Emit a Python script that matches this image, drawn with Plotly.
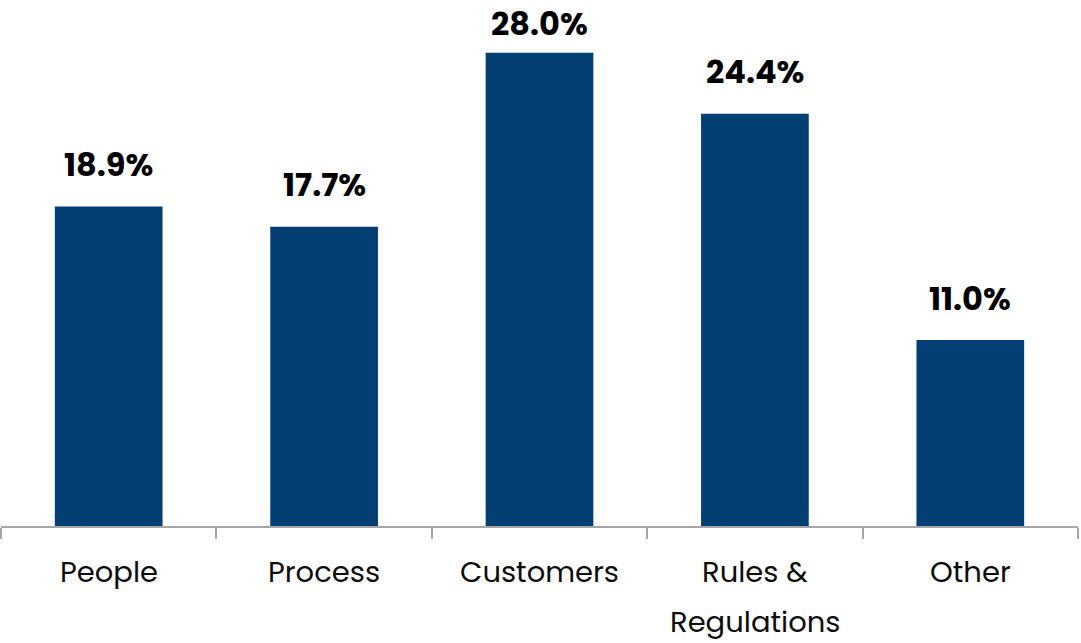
import plotly.graph_objects as go

categories = ["People", "Process", "Customers", "Rules & Regulations", "Other"]
label_lines = [["People"], ["Process"], ["Customers"], ["Rules &", "Regulations"], ["Other"]]
shares = [18.9, 17.7, 28.0, 24.4, 11.0]

BAR_COLOR = "#043F73"
AXIS_COLOR = "#A6A6A6"
FONT = "Poppins, Inter, sans-serif"

W, H = 1081, 643
M_T, M_B, M_L, M_R = 19, 117, 1, 3
Y_MAX = 30
plot_h = H - M_T - M_B
px_per_unit = plot_h / Y_MAX

fig = go.Figure(
    go.Bar(
        x=categories,
        y=shares,
        marker=dict(color=BAR_COLOR, line=dict(width=0)),
        hoverinfo="skip",
    )
)

annotations = []
# value labels above each bar, kept inside the canvas when the bar is tall
for cat, v in zip(categories, shares):
    bar_top_px = M_T + plot_h - v * px_per_unit
    shift = min(42, bar_top_px - 24)
    annotations.append(dict(
        x=cat, y=v, xref="x", yref="y", text=f"{v:.1f}%",
        showarrow=False, yanchor="middle", yshift=shift,
        font=dict(family=FONT, size=32, color="#000000", weight="bold"),
    ))

# category labels under the axis, one annotation per line
for cat, lines in zip(categories, label_lines):
    for i, line in enumerate(lines):
        annotations.append(dict(
            x=cat, y=0, xref="x", yref="paper", text=line,
            showarrow=False, yanchor="middle", yshift=-46 - 50 * i,
            font=dict(family=FONT, size=29, color="#0D0D0D"),
        ))

fig.update_layout(
    width=W, height=H,
    margin=dict(t=M_T, b=M_B, l=M_L, r=M_R),
    paper_bgcolor="white", plot_bgcolor="white",
    bargap=0.5,
    showlegend=False,
    annotations=annotations,
    xaxis=dict(
        type="category",
        showticklabels=False,
        tickson="boundaries",
        ticks="outside", ticklen=11, tickwidth=1.5, tickcolor=AXIS_COLOR,
        showline=True, linecolor=AXIS_COLOR, linewidth=1.5,
        showgrid=False, zeroline=False,
    ),
    yaxis=dict(
        range=[0, Y_MAX],
        visible=False,
        showgrid=False, zeroline=False,
    ),
)

fig.write_html("out.html")
